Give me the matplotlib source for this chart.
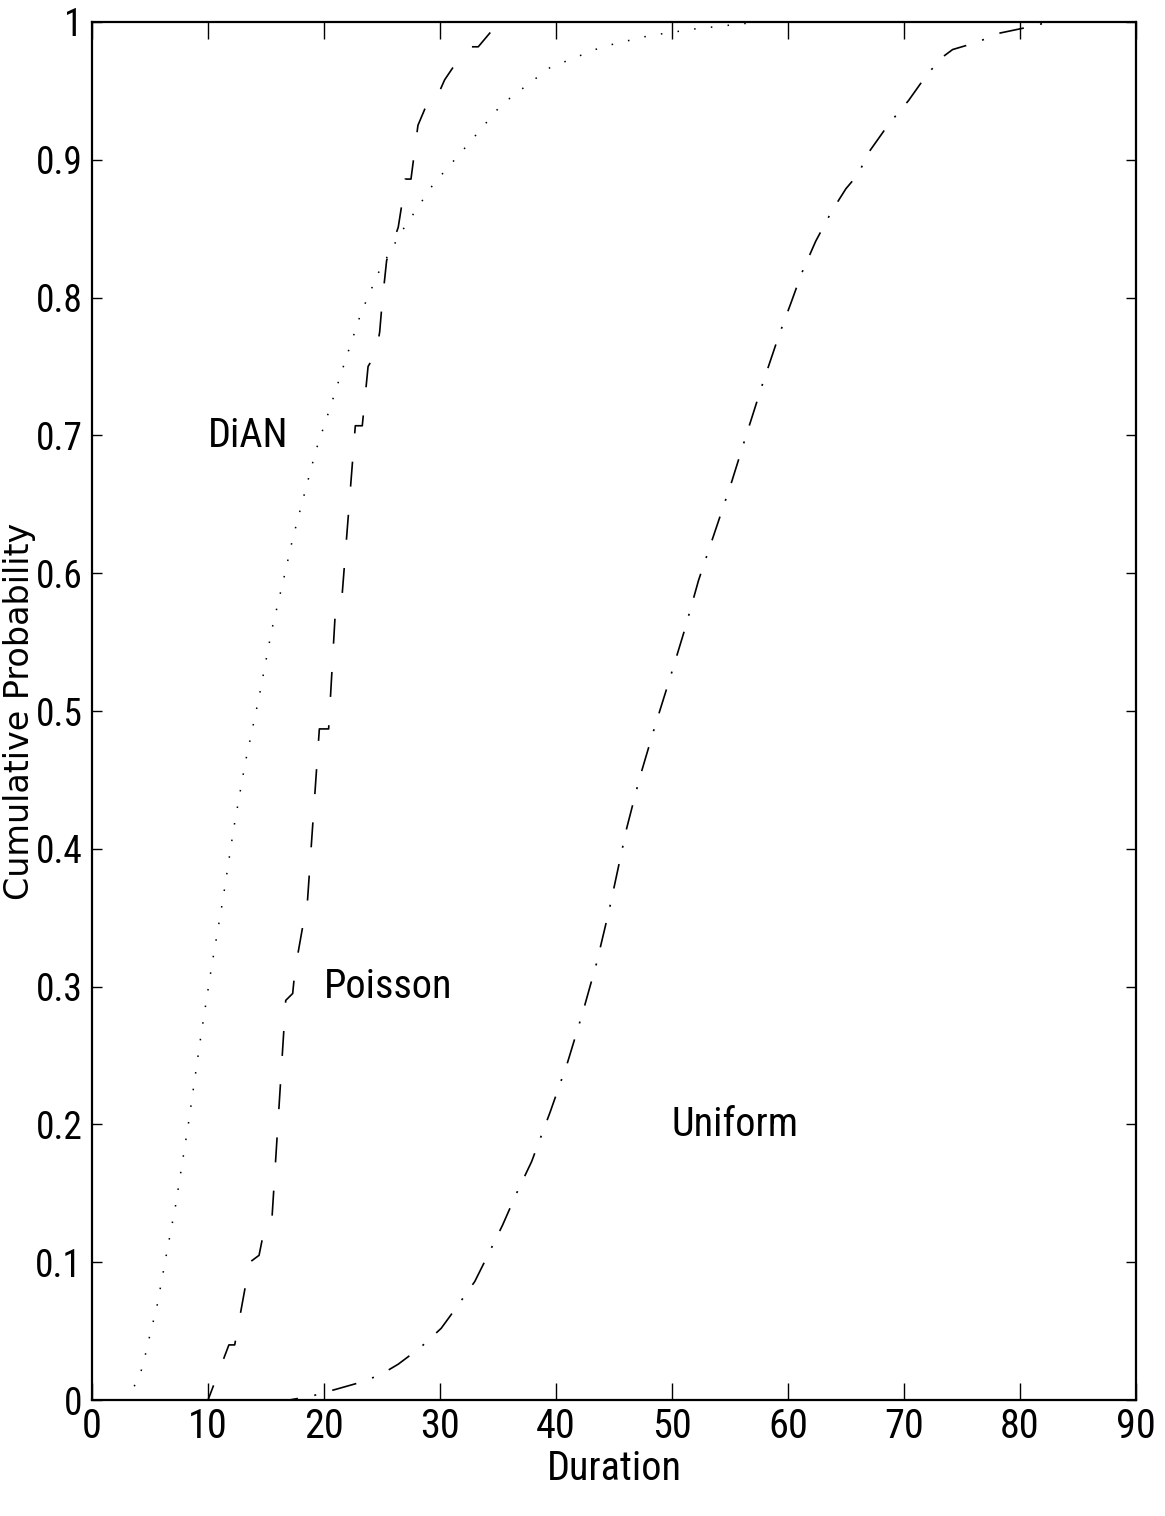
import matplotlib
matplotlib.use("Agg")
import matplotlib.pyplot as plt

# DiAN (dotted)
dian_x = [0, 3.0, 3.7, 4.2, 4.6, 4.9, 5.6, 6.4, 7.2, 8.3, 9.4, 10.3, 11.3, 12.2, 13.2,
          14.4, 15.5, 16.5, 17.3, 18.2, 19.3, 20.6, 21.9, 23.2, 24.8, 26.7, 29.4, 32.4,
          35.3, 39.5, 44.0, 48.0, 52.0, 57.5, 90]
dian_y = [0, 0, 0.011, 0.02, 0.033, 0.044, 0.068, 0.105, 0.141, 0.2, 0.265, 0.314, 0.364,
          0.414, 0.462, 0.51, 0.559, 0.595, 0.625, 0.654, 0.689, 0.722, 0.756, 0.789, 0.82,
          0.848, 0.882, 0.911, 0.94, 0.967, 0.982, 0.99, 0.995, 1.0, 1.0]

# Poisson (dashed)
poisson_x = [0, 10.0, 11.8, 12.3, 13.6, 14.4, 14.9, 15.5, 16.7, 17.3, 17.5, 18.3, 18.5,
             19.5, 19.6, 20.4, 20.95, 21.45, 22.7, 23.3, 23.8, 24.5, 24.8, 25.0, 25.4,
             25.7, 26.4, 26.7, 27.0, 27.5, 28.1, 28.8, 29.4, 30.4, 31.2, 32.7, 33.3,
             34.4, 35.2, 90]
poisson_y = [0, 0, 0.04, 0.04, 0.10, 0.105, 0.126, 0.13, 0.29, 0.295, 0.312, 0.35, 0.353,
             0.475, 0.487, 0.487, 0.568, 0.572, 0.707, 0.707, 0.75, 0.76, 0.775, 0.795,
             0.827, 0.834, 0.851, 0.867, 0.886, 0.886, 0.925, 0.939, 0.939, 0.958, 0.968,
             0.982, 0.982, 0.993, 1.0, 1.0]

# Uniform (dash-dot)
uniform_x = [0, 17, 19, 20.7, 22.8, 24.8, 26.4, 28.3, 30.1, 31.4, 33.0, 34.3, 35.4, 36.6,
             37.9, 39.5, 41.0, 42.3, 43.5, 44.6, 46.1, 47.2, 48.5, 49.8, 51.1, 52.3, 53.7,
             55.1, 56.4, 57.8, 59.2, 60.3, 61.2, 62.4, 63.8, 65.0, 66.0, 67.1, 68.7, 70.4,
             72.0, 73.4, 74.2, 76.2, 78.3, 80.0, 81.1, 82.5, 90]
uniform_y = [0, 0, 0.003, 0.007, 0.012, 0.018, 0.026, 0.038, 0.052, 0.067, 0.086, 0.108,
             0.127, 0.15, 0.173, 0.209, 0.245, 0.281, 0.317, 0.356, 0.415, 0.451, 0.488,
             0.523, 0.559, 0.595, 0.63, 0.665, 0.70, 0.737, 0.772, 0.797, 0.818, 0.841,
             0.863, 0.879, 0.889, 0.907, 0.926, 0.943, 0.962, 0.975, 0.98, 0.985, 0.992,
             0.995, 0.997, 1.0, 1.0]

x_ticks = [0, 10, 20, 30, 40, 50, 60, 70, 80, 90]
y_ticks = [0, 0.1, 0.2, 0.3, 0.4, 0.5, 0.6, 0.7, 0.8, 0.9, 1.0]
y_tick_labels = ["0", "0.1", "0.2", "0.3", "0.4", "0.5", "0.6", "0.7", "0.8", "0.9", "1"]

labels = ["DiAN", "Poisson", "Uniform"]
label_pos = [(10, 0.7), (20, 0.3), (50, 0.2)]

# condensed face if there is one, otherwise Arial-like
narrow = ["Liberation Sans Narrow", "Roboto Condensed", "Open Sans Condensed",
          "Liberation Sans", "DejaVu Sans"]
plt.rcParams["font.family"] = narrow

fig = plt.figure(figsize=(11.65, 15.16), dpi=100)
ax = fig.add_axes([0.079, 0.0765, 0.896, 0.909])

ax.plot(dian_x, dian_y, color="black", lw=1.1, ls=(0, (1, 10)))
ax.plot(poisson_x, poisson_y, color="black", lw=1.2, ls=(0, (15, 17)))
ax.plot(uniform_x, uniform_y, color="black", lw=1.2, ls=(0, (15, 10, 1.2, 10)))

for txt, (tx, ty) in zip(labels, label_pos):
    ax.text(tx, ty, txt, fontsize=29, ha="left", va="center")

ax.set_xlim(0, 90)
ax.set_ylim(0, 1)
ax.set_xticks(x_ticks)
ax.set_yticks(y_ticks)
ax.set_yticklabels(y_tick_labels)

ax.tick_params(axis="both", direction="in", top=True, right=True,
               labelsize=29, width=1.0)
ax.tick_params(axis="y", labelsize=27)
ax.tick_params(axis="x", length=12, pad=5)
ax.tick_params(axis="y", length=7, pad=7)
for s in ax.spines.values():
    s.set_linewidth(1.6)

ax.set_xlabel("Duration", fontsize=29, labelpad=2)
ax.set_ylabel("Cumulative Probability", fontsize=24, family="DejaVu Sans", va="center")
ax.yaxis.set_label_coords(-0.0695, 0.5)

fig.savefig("out.png", dpi=100)
